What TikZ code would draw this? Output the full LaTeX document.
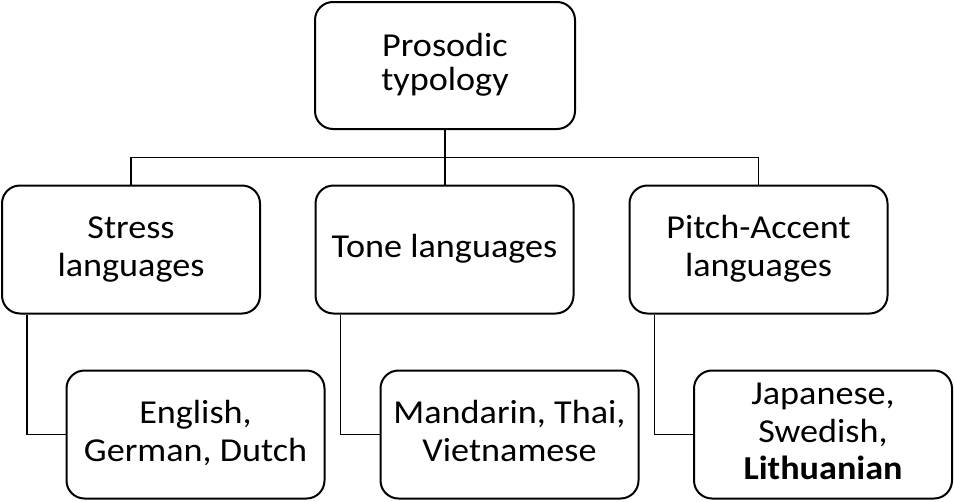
\documentclass[tikz,border=0pt]{standalone}
\usepackage{fontspec}
\setmainfont{Carlito}[FakeStretch=1.08]
\newcommand\tstrut{\rule[-9pt]{0pt}{33.5pt}}
\newcommand\fsA{\fontsize{33.5}{33.5}\selectfont}
\newcommand\fsB{\fontsize{33.5}{38.5}\selectfont}
\newcommand\fsC{\fontsize{33.5}{37.5}\selectfont}
\begin{document}
\begin{tikzpicture}[x=1pt,y=-1pt,
  box/.style={draw, line width=2pt, rounded corners=18pt, minimum width=258pt,
    minimum height=128pt, inner sep=0pt, align=center, font=\fsB},
  link/.style={line width=1.3pt},
  trunk/.style={line width=2.4pt}]
\useasboundingbox (0,0) rectangle (955,501);
\node[box, minimum width=260pt, minimum height=127pt, font=\fsA] (top) at (445,65.5) {\tstrut Prosodic\\\tstrut typology};
\node[box] (stress) at (131,249.5) {\tstrut Stress\\\tstrut languages};
\node[box] (tone) at (444.5,249.5) {\tstrut Tone languages};
\node[box] (pitch) at (758.5,249.5) {\tstrut Pitch-Accent\\\tstrut languages};
\node[box] (english) at (195.5,434.5) {\tstrut English,\\\tstrut German, Dutch};
\node[box] (mandarin) at (509.5,434.5) {\tstrut Mandarin, Thai,\\\tstrut Vietnamese};
\node[box, font=\fsC] (japanese) at (823,434.5) {\tstrut Japanese,\\\tstrut Swedish,\\\tstrut\bfseries Lithuanian};
\coordinate (bus) at (445,157.5);
\draw[link] (stress.north) |- (bus) -| (pitch.north);
\draw[trunk] (top.south) -- (top.south |- tone.north);
\draw[link] ([xshift=26pt]stress.south west) |- (english.west);
\draw[link] ([xshift=26pt]tone.south west) |- (mandarin.west);
\draw[link] ([xshift=26pt]pitch.south west) |- (japanese.west);
\end{tikzpicture}
\end{document}
